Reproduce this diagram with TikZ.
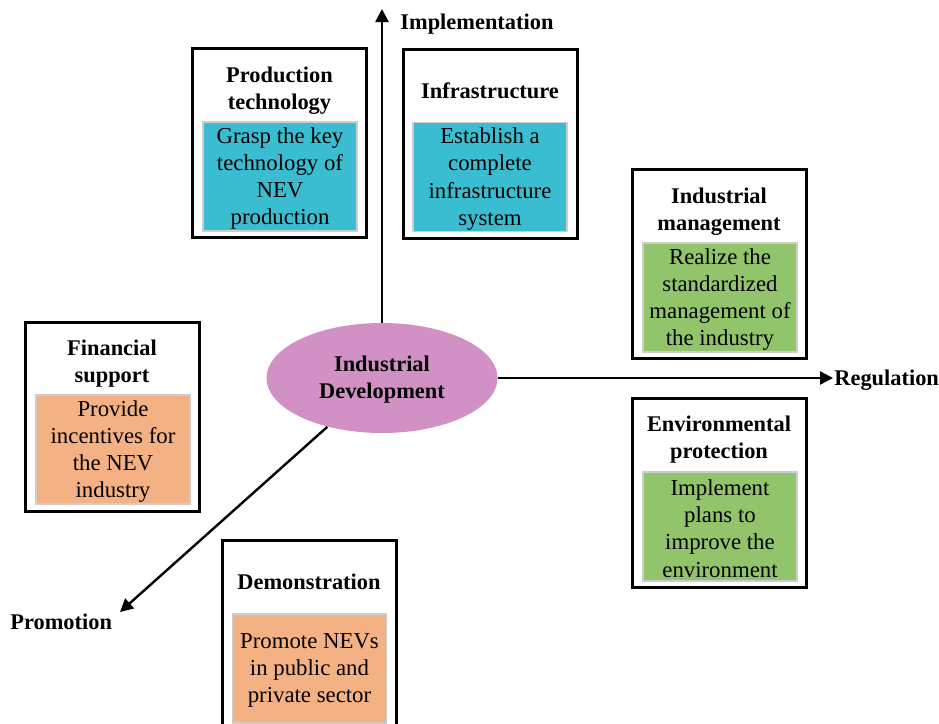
\documentclass[tikz,border=0pt]{standalone}
\usepackage{fontspec}
\setmainfont{Liberation Serif}
\usetikzlibrary{arrows.meta,shapes.geometric}
\definecolor{cyanfill}{RGB}{59,189,209}
\definecolor{greenfill}{RGB}{146,196,108}
\definecolor{orangefill}{RGB}{244,177,131}
\definecolor{pinkfill}{RGB}{209,145,196}
\definecolor{innerline}{RGB}{205,205,205}
\tikzset{
  outerbox/.style={draw=black, line width=1.5pt, inner sep=0pt, outer sep=0pt,
    minimum width=87pt, minimum height=94.5pt},
  innerbox/.style={draw=innerline, line width=0.6pt, inner sep=0pt, outer sep=0pt,
    minimum width=77pt, minimum height=54.5pt},
  innertext/.style={align=center, inner sep=0pt, yshift=-1pt,
    font=\fontsize{11.4}{13.6}\selectfont},
  titletext/.style={align=center, inner sep=0pt, yshift=-1pt, font=\fontsize{11.2}{13.6}\selectfont\bfseries},
  axislabel/.style={anchor=west, inner sep=0pt, yshift=-1pt, font=\fontsize{11.2}{13.6}\selectfont\bfseries},
  axisarrow/.style={line width=1.2pt, -{Triangle[length=6.5pt,width=6.5pt]}},
}
\begin{document}
\begin{tikzpicture}[x=0.5pt,y=-0.5pt]
\useasboundingbox (0,0) rectangle (939,724);
\clip (0,0) rectangle (939,724);

% central ellipse
\node[ellipse, fill=pinkfill, minimum width=115.5pt, minimum height=55pt, inner sep=0pt,
  label={[titletext]center:{Industrial\\Development}}] (core) at (382,378) {};

% axes
\coordinate (imptip) at (382,9);
\coordinate (regtip) at (833,378);
\coordinate (promtip) at (120,612);
\draw[axisarrow] (core.north) -- (imptip);
\draw[axisarrow] (core.east) -- (regtip);
\draw[axisarrow] (core) -- (promtip);
\node[axislabel] (implab) at (400,22) {Implementation};
\node[axislabel] (reglab) at (834,378) {Regulation};
\node[axislabel] (promlab) at (10,620) {Promotion};

% Production technology
\node[outerbox] (o1) at (279.5,142.5) {};
\node[titletext] (t1) at (279.5,88.5) {Production\\technology};
\node[innerbox, fill=cyanfill, label={[innertext]center:{Grasp the key\\technology of\\NEV\\production}}] (i1) at (280,176.5) {};

% Infrastructure
\node[outerbox] (o2) at (490,144) {};
\node[titletext] (t2) at (490,89) {Infrastructure};
\node[innerbox, fill=cyanfill, label={[innertext]center:{Establish a\\complete\\infrastructure\\system}}] (i2) at (490,177) {};

% Industrial management
\node[outerbox] (o3) at (719,263.5) {};
\node[titletext] (t3) at (719,209.5) {Industrial\\management};
\node[innerbox, fill=greenfill, label={[innertext]center:{Realize the\\standardized\\management of\\the industry}}] (i3) at (720,297.5) {};

% Environmental protection
\node[outerbox] (o4) at (719,492.5) {};
\node[titletext] (t4) at (719,437.5) {Environmental\\protection};
\node[innerbox, fill=greenfill, label={[innertext]center:{Implement\\plans to\\improve the\\environment}}] (i4) at (720,526.5) {};

% Financial support
\node[outerbox] (o5) at (112,416.5) {};
\node[titletext] (t5) at (112,362) {Financial\\support};
\node[innerbox, fill=orangefill, label={[innertext]center:{Provide\\incentives for\\the NEV\\industry}}] (i5) at (113,449.5) {};

% Demonstration
\node[outerbox] (o6) at (309,635) {};
\node[titletext] (t6) at (309,580) {Demonstration};
\node[innerbox, fill=orangefill, label={[innertext]center:{Promote NEVs\\in public and\\private sector}}] (i6) at (309.5,668.5) {};
\end{tikzpicture}
\end{document}
